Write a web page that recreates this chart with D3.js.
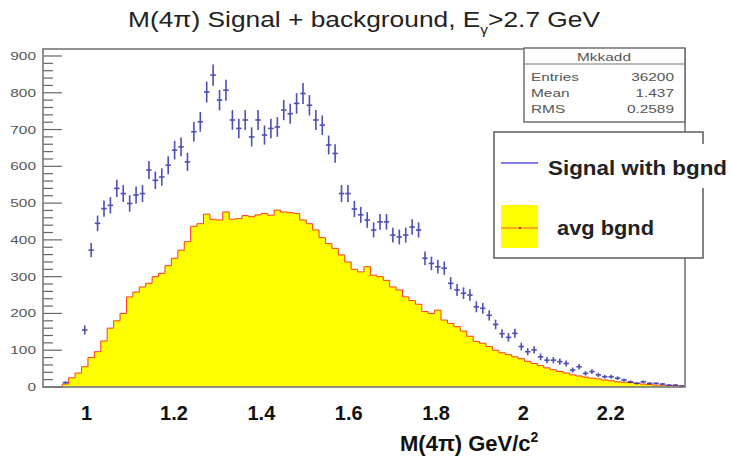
<!DOCTYPE html>
<html>
<head>
<meta charset="utf-8">
<script src="https://cdn.jsdelivr.net/npm/d3@7"></script>
<style>
  html, body { margin: 0; padding: 0; background: #fff; }
  svg { display: block; }
  text { font-family: "Liberation Sans", Arial, sans-serif; }
</style>
</head>
<body>
<svg id="chart" width="731" height="458"></svg>
<script>
// Histogram binning of M(4pi)
const xMin = 0.9;
const xMax = 2.37;
const nBins = 100;

// Signal with background, counts per bin
const signalCounts = [
  0, 0, 0, 12, 0, 0, 155, 372, 445, 485,
  494, 540, 526, 499, 522, 526, 590, 562, 571, 603,
  644, 653, 612, 694, 721, 802, 848, 780, 807, 726,
  703, 726, 680, 726, 685, 703, 707, 753, 743, 771,
  798, 766, 726, 712, 658, 635, 526, 526, 484, 468,
  454, 427, 449, 449, 413, 408, 413, 435, 427, 350,
  336, 327, 323, 282, 264, 255, 250, 218, 214, 195,
  170, 145, 135, 146, 110, 96, 101, 82, 73, 73,
  69, 64, 46, 55, 37, 42, 33, 28, 28, 24,
  19, 14, 10, 14, 10, 10, 8, 5, 5, 3
];

// Average background, counts per bin
const bgndCounts = [
  0, 0, 0, 8, 25, 38, 55, 80, 96, 125,
  160, 180, 200, 245, 258, 272, 282, 300, 309, 330,
  350, 372, 395, 437, 444, 470, 456, 454, 476, 456,
  458, 466, 463, 468, 472, 467, 481, 476, 474, 472,
  454, 444, 427, 406, 390, 377, 359, 340, 320, 313,
  327, 304, 300, 290, 272, 264, 245, 235, 225, 205,
  200, 209, 182, 173, 164, 152, 138, 124, 119, 110,
  100, 93, 88, 82, 77, 70, 64, 58, 52, 47,
  42, 38, 33, 30, 27, 24, 22, 19, 17, 14,
  13, 12, 10, 8, 7, 5, 5, 4, 3, 2
];

const xTickValues = [1, 1.2, 1.4, 1.6, 1.8, 2, 2.2];
const xTickLabels = ["1", "1.2", "1.4", "1.6", "1.8", "2", "2.2"];
const yTickValues = [0, 100, 200, 300, 400, 500, 600, 700, 800, 900];

const statsName = "Mkkadd";
const statsRows = [["Entries", "36200"], ["Mean", "1.437"], ["RMS", "0.2589"]];
const legendLabels = ["Signal with bgnd", "avg bgnd"];

const svg = d3.select("#chart");
const frame = { left: 43, right: 685, top: 49, bottom: 387 };

const x = d3.scaleLinear().domain([xMin, xMax]).range([frame.left, frame.right]);
const y = d3.scaleLinear().domain([0, 919]).range([frame.bottom, frame.top]);

const binWidth = (xMax - xMin) / nBins;
const bins = d3.range(nBins).map(i => ({
  x0: xMin + i * binWidth,
  x1: xMin + (i + 1) * binWidth,
  sig: signalCounts[i],
  bg: bgndCounts[i]
}));

// ---- title ----
const title = svg.append("text")
  .attr("x", 128).attr("y", 27)
  .attr("font-size", 22)
  .attr("fill", "#222")
  .attr("textLength", 472)
  .attr("lengthAdjust", "spacingAndGlyphs");
title.append("tspan").text("M(4\u03c0) Signal + background, E");
title.append("tspan").attr("font-size", 13).attr("dy", 7).text("\u03b3");
title.append("tspan").attr("dy", -7).text(">2.7 GeV");

// ---- background histogram (filled steps) ----
const stepPts = bins.map(b => [b.x0, b.bg]).concat([[xMax, bins[nBins - 1].bg]]);
const area = d3.area()
  .x(d => x(d[0]))
  .y0(y(0))
  .y1(d => y(d[1]))
  .curve(d3.curveStepAfter);
const line = d3.line()
  .x(d => x(d[0]))
  .y(d => y(d[1]))
  .curve(d3.curveStepAfter);

svg.append("path")
  .datum(stepPts)
  .attr("d", area)
  .attr("fill", "#ffff00");
svg.append("path")
  .datum(stepPts)
  .attr("d", line)
  .attr("fill", "none")
  .attr("stroke", "#ff3a1a")
  .attr("stroke-width", 1);

// ---- signal points with Poisson error bars ----
const sigColor = "#3b3bb0";
const pts = svg.append("g")
  .attr("stroke", sigColor)
  .attr("stroke-width", 1.6)
  .attr("opacity", 0.9);
bins.filter(b => b.sig > 0).forEach(b => {
  const cx = x((b.x0 + b.x1) / 2);
  const err = Math.sqrt(b.sig);
  pts.append("line")
    .attr("x1", x(b.x0) + 0.5).attr("x2", x(b.x1) - 0.5)
    .attr("y1", y(b.sig)).attr("y2", y(b.sig));
  pts.append("line")
    .attr("x1", cx).attr("x2", cx)
    .attr("y1", y(b.sig - err)).attr("y2", y(b.sig + err));
});

// ---- y axis with major and minor ticks ----
const axisG = svg.append("g").attr("stroke", "#666");
d3.range(0, 901, 20).forEach(v => {
  const major = v % 100 === 0;
  axisG.append("line")
    .attr("x1", frame.left).attr("x2", frame.left + (major ? 19 : 10))
    .attr("y1", y(v)).attr("y2", y(v))
    .attr("stroke-width", 1.2);
});
yTickValues.forEach(v => {
  svg.append("text")
    .attr("transform", `translate(36,${y(v) + 4}) scale(1.4,1)`)
    .attr("text-anchor", "end")
    .attr("font-size", 11)
    .attr("fill", "#555")
    .text(d3.format("d")(v));
});

// ---- frame ----
svg.append("rect")
  .attr("x", frame.left).attr("y", frame.top)
  .attr("width", frame.right - frame.left)
  .attr("height", frame.bottom - frame.top)
  .attr("fill", "none")
  .attr("stroke", "#777")
  .attr("stroke-width", 1.6);

// ---- x tick labels and axis title ----
xTickValues.forEach((v, i) => {
  svg.append("text")
    .attr("x", x(v)).attr("y", 420)
    .attr("text-anchor", "middle")
    .attr("font-size", 20)
    .attr("font-weight", "bold")
    .attr("fill", "#111")
    .text(xTickLabels[i]);
});
const xTitle = svg.append("text")
  .attr("x", 400).attr("y", 451)
  .attr("font-size", 22)
  .attr("font-weight", "bold")
  .attr("fill", "#111");
xTitle.append("tspan").text("M(4\u03c0) GeV/c");
xTitle.append("tspan").attr("font-size", 14).attr("dy", -9).text("2");

// ---- statistics box ----
const stats = svg.append("g");
stats.append("rect")
  .attr("x", 524).attr("y", 48).attr("width", 161).attr("height", 74)
  .attr("fill", "#fff").attr("stroke", "#666").attr("stroke-width", 1.4);
stats.append("line")
  .attr("x1", 524).attr("x2", 685).attr("y1", 64).attr("y2", 64)
  .attr("stroke", "#777").attr("stroke-width", 1);
stats.append("text")
  .attr("transform", "translate(604,61) scale(1.4,1)")
  .attr("text-anchor", "middle")
  .attr("font-size", 11).attr("fill", "#555")
  .text(statsName);
statsRows.forEach((r, i) => {
  const by = 81 + i * 16;
  stats.append("text")
    .attr("transform", `translate(531,${by}) scale(1.4,1)`)
    .attr("font-size", 11).attr("fill", "#555")
    .text(r[0]);
  stats.append("text")
    .attr("transform", `translate(674,${by}) scale(1.4,1)`)
    .attr("text-anchor", "end")
    .attr("font-size", 11).attr("fill", "#555")
    .text(r[1]);
});

// ---- legend ----
const leg = svg.append("g");
leg.append("rect")
  .attr("x", 494).attr("y", 132).attr("width", 209).attr("height", 126)
  .attr("fill", "#fff").attr("stroke", "#666").attr("stroke-width", 1.6);
leg.append("rect")
  .attr("x", 544).attr("y", 144).attr("width", 187).attr("height", 44)
  .attr("fill", "#fff");
leg.append("line")
  .attr("x1", 501).attr("x2", 538).attr("y1", 163).attr("y2", 163)
  .attr("stroke", "#7d7de0").attr("stroke-width", 2);
leg.append("text")
  .attr("x", 548).attr("y", 175)
  .attr("font-size", 21).attr("font-weight", "bold").attr("fill", "#222")
  .attr("textLength", 179).attr("lengthAdjust", "spacingAndGlyphs")
  .text(legendLabels[0]);
leg.append("rect")
  .attr("x", 501).attr("y", 205).attr("width", 37).attr("height", 43)
  .attr("fill", "#ffff00");
leg.append("line")
  .attr("x1", 501).attr("x2", 538).attr("y1", 228).attr("y2", 228)
  .attr("stroke", "#ff5a2a").attr("stroke-width", 1);
leg.append("circle")
  .attr("cx", 520).attr("cy", 228).attr("r", 1)
  .attr("fill", "#444");
leg.append("text")
  .attr("x", 557).attr("y", 235)
  .attr("font-size", 21).attr("font-weight", "bold").attr("fill", "#222")
  .attr("textLength", 97).attr("lengthAdjust", "spacingAndGlyphs")
  .text(legendLabels[1]);
</script>
</body>
</html>
